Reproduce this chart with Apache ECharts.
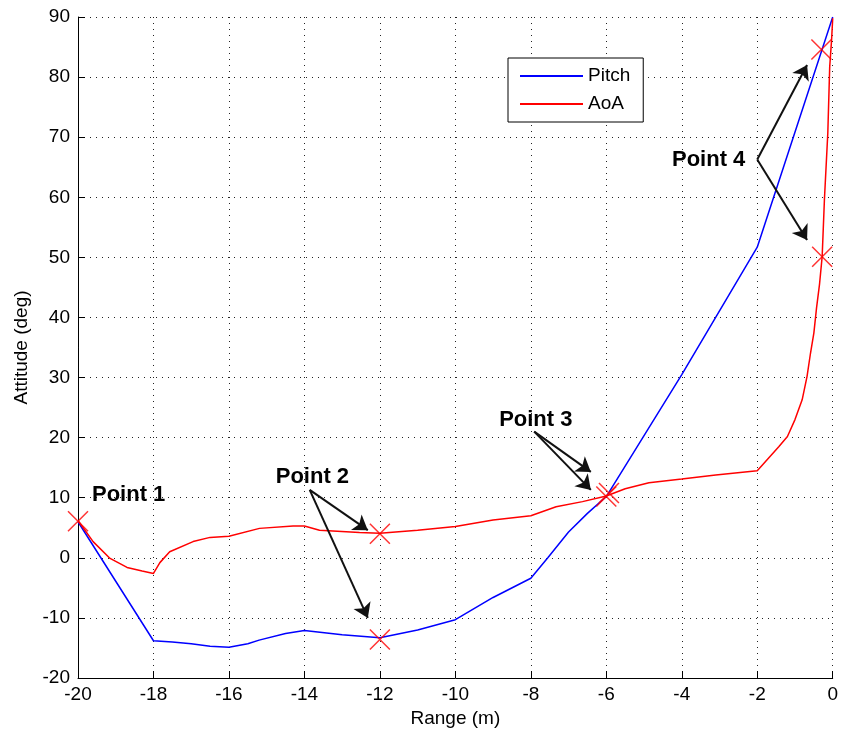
<!DOCTYPE html>
<html>
<head>
<meta charset="utf-8">
<script src="https://cdn.jsdelivr.net/npm/echarts@6/dist/echarts.min.js"></script>
<style>
html,body{margin:0;padding:0;background:#fff;}
#chart{width:841px;height:735px;}
</style>
</head>
<body>
<div id="chart"></div>
<script>
// Pitch (blue)
const pitchX = [-20, -18, -17.5, -17, -16.5, -16, -15.5, -15.2, -14.5, -14, -13, -12, -11, -10, -9, -8, -7.55, -7, -6.5, -6, -4, -2, 0];
const pitchY = [6.0, -13.8, -14.0, -14.3, -14.7, -14.9, -14.3, -13.7, -12.6, -12.1, -12.8, -13.3, -12.0, -10.3, -6.6, -3.4, 0.0, 4.3, 7.4, 10.2, 30.5, 51.7, 90];
// AoA (red)
const aoaX = [-20, -19.6, -19.15, -18.7, -18.3, -18, -17.83, -17.57, -16.95, -16.5, -16, -15.19, -14.3, -14, -13.6, -12.54, -12, -11, -10, -9, -8, -7.33, -6.63, -6, -5.5, -4.87, -4, -3.1, -2, -1.43, -1.2, -1.0, -0.81, -0.68, -0.59, -0.5, -0.43, -0.35, -0.28, -0.22, -0.13, -0.08, -0.03, 0];
const aoaY = [6.2, 2.7, -0.1, -1.6, -2.2, -2.6, -0.8, 1.0, 2.7, 3.4, 3.6, 4.9, 5.3, 5.3, 4.6, 4.2, 4.1, 4.6, 5.2, 6.3, 7.0, 8.5, 9.35, 10.3, 11.5, 12.5, 13.1, 13.8, 14.5, 18.5, 20.2, 23.0, 26.3, 30.2, 34.0, 37.4, 41.5, 45.5, 50.1, 59.6, 70.7, 81.7, 86.2, 89.8];
// Marked points (red X)
const markX = [-20, -12, -12, -6, -5.93, -0.3, -0.28];
const markY = [6.1, 4.0, -13.6, 10.2, 10.8, 84.6, 50.1];
// Annotation labels
const labelText = ['Point 1', 'Point 2', 'Point 3', 'Point 4'];
const labelX = [-19.63, -14.76, -8.84, -4.26];
const labelY = [10.5, 13.5, 22.9, 66.2];
// Annotation arrows: from (x,y) to (x,y)
const arrowFromX = [-13.86, -13.86, -7.91, -7.91, -2.0, -2.0];
const arrowFromY = [11.3, 11.3, 21.0, 21.0, 66.3, 66.3];
const arrowToX = [-12.32, -12.32, -6.41, -6.41, -0.68, -0.68];
const arrowToY = [4.6, -10.0, 14.3, 11.3, 82.0, 52.9];
// Axis ticks
const xTicks = {min: -20, max: 0, interval: 2};
const yTicks = {min: -20, max: 90, interval: 10};

const zip = (a, b) => a.map((v, i) => [v, b[i]]);
const font = 'Liberation Sans, Arial, sans-serif';

const chart = echarts.init(document.getElementById('chart'), null, {renderer: 'canvas'});
chart.setOption({
  animation: false,
  backgroundColor: '#ffffff',
  grid: {left: 78, right: 6, top: 17, bottom: 57, containLabel: false},
  legend: {
    data: [{name: 'Pitch', icon: 'rect'}, {name: 'AoA', icon: 'rect'}],
    orient: 'vertical',
    left: 508, top: 58,
    padding: [7, 13, 7, 12],
    itemWidth: 63, itemHeight: 2, itemGap: 6,
    borderColor: '#000', borderWidth: 1,
    backgroundColor: '#fff',
    textStyle: {fontFamily: font, fontSize: 19, color: '#000', lineHeight: 22}
  },
  xAxis: {
    type: 'value', min: xTicks.min, max: xTicks.max, interval: xTicks.interval,
    name: 'Range (m)', nameLocation: 'middle', nameGap: 30,
    nameTextStyle: {fontFamily: font, fontSize: 19, color: '#000'},
    axisLine: {show: true, onZero: false, lineStyle: {color: '#000', width: 1}},
    axisTick: {show: true, inside: true, length: 7, lineStyle: {color: '#000'}},
    axisLabel: {fontFamily: font, fontSize: 19, color: '#000', margin: 7},
    splitLine: {show: true, lineStyle: {color: '#222', width: 1, type: [1, 5]}}
  },
  yAxis: {
    type: 'value', min: yTicks.min, max: yTicks.max, interval: yTicks.interval,
    name: 'Attitude (deg)', nameLocation: 'middle', nameGap: 46,
    nameTextStyle: {fontFamily: font, fontSize: 19, color: '#000'},
    axisLine: {show: true, onZero: false, lineStyle: {color: '#000', width: 1}},
    axisTick: {show: true, inside: true, length: 7, lineStyle: {color: '#000'}},
    axisLabel: {fontFamily: font, fontSize: 19, color: '#000', margin: 8},
    splitLine: {show: true, lineStyle: {color: '#222', width: 1, type: [1, 5]}}
  },
  series: [
    {
      name: 'Pitch', type: 'line', data: zip(pitchX, pitchY),
      symbol: 'none', smooth: false,
      lineStyle: {color: '#0000ff', width: 1.5}, itemStyle: {color: '#0000ff'}, z: 3
    },
    {
      name: 'AoA', type: 'line', data: zip(aoaX, aoaY),
      symbol: 'none', smooth: false,
      lineStyle: {color: '#ff0000', width: 1.5}, itemStyle: {color: '#ff0000'}, z: 3
    },
    {
      name: 'marks', type: 'scatter', data: zip(markX, markY),
      symbol: 'path://M0,0L10,10M10,0L0,10', symbolSize: 20,
      itemStyle: {color: 'transparent', borderColor: '#ff0000', borderWidth: 1.5}, z: 4
    },
    {
      name: 'arrows', type: 'lines', coordinateSystem: 'cartesian2d',
      data: arrowFromX.map((v, i) => ({coords: [[v, arrowFromY[i]], [arrowToX[i], arrowToY[i]]]})),
      symbol: ['none', 'arrow'], symbolSize: 14,
      lineStyle: {color: '#111', width: 2, opacity: 1, curveness: 0},
      itemStyle: {color: '#111'}, z: 5
    },
    {
      name: 'labels', type: 'scatter',
      data: labelX.map((v, i) => ({value: [v, labelY[i]], name: labelText[i]})),
      symbolSize: 0, itemStyle: {color: '#000', opacity: 1},
      label: {
        show: true, position: 'right', distance: 0, opacity: 1,
        formatter: p => p.name,
        fontFamily: font, fontSize: 22, fontWeight: 'bold', color: '#000'
      },
      z: 6
    }
  ]
});
</script>
</body>
</html>
